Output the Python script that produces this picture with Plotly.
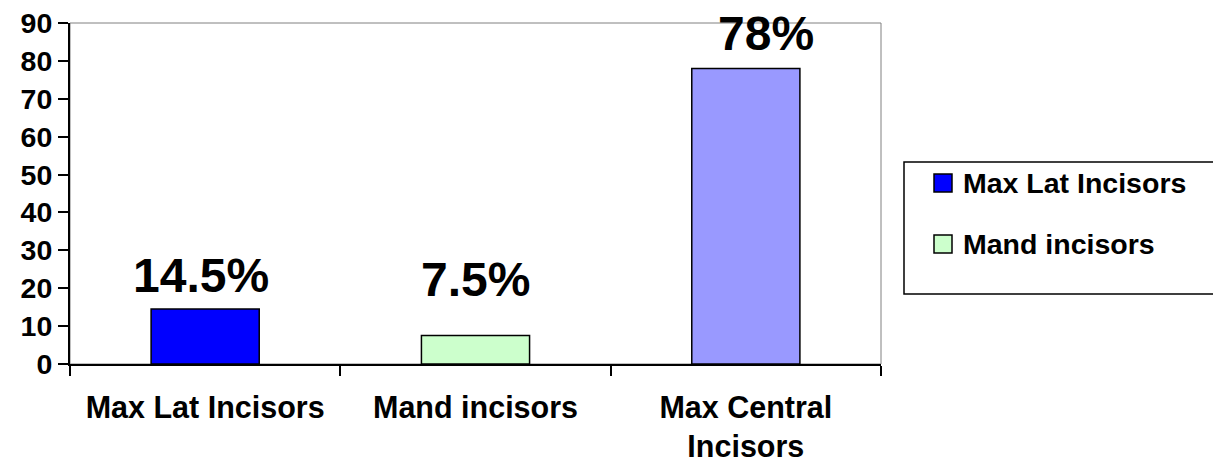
import plotly.graph_objects as go

# ---- data ----
categories = ["Max Lat Incisors", "Mand incisors", "Max Central Incisors"]
tick_labels = ["Max Lat Incisors", "Mand incisors", "Max Central<br>Incisors"]
values = [14.5, 7.5, 78]
value_labels = ["14.5%", "7.5%", "78%"]
colors = ["#0000FF", "#CCFFCC", "#9999FF"]
legend_names = ["Max Lat Incisors", "Mand incisors"]

# ---- layout constants ----
W, H = 1213, 468
L, R, T, B = 70, 332, 23, 104
PW, PH = W - L - R, H - T - B
FONT = "Liberation Sans, Arial, sans-serif"

# per-label pixel offsets (style)
label_xshift = [-4, 0, 20]
label_yshift = [5, 28, 6]


def px_x(p):
    return (p - L) / PW


def px_y(p):
    return (H - B - p) / PH


fig = go.Figure(
    go.Bar(
        x=categories,
        y=values,
        width=0.4,
        marker=dict(color=colors, line=dict(color="black", width=1.5)),
        showlegend=False,
        hoverinfo="skip",
    )
)

fig.update_layout(
    width=W,
    height=H,
    margin=dict(l=L, r=R, t=T, b=B, pad=0, autoexpand=False),
    paper_bgcolor="white",
    plot_bgcolor="white",
    font=dict(family=FONT, color="black"),
    showlegend=False,
)

fig.update_xaxes(
    type="category",
    tickmode="array",
    tickvals=categories,
    ticktext=tick_labels,
    tickson="boundaries",
    range=[-0.5, 2.5],
    ticks="outside",
    ticklen=10,
    tickwidth=1.5,
    tickcolor="black",
    showline=True,
    linecolor="black",
    linewidth=2,
    showgrid=False,
    zeroline=False,
    automargin=False,
    tickfont=dict(family=FONT, size=30.5, color="black", weight="bold"),
    ticklabelstandoff=15,
)

fig.update_yaxes(
    range=[0, 90],
    tickmode="linear",
    tick0=0,
    dtick=10,
    ticks="outside",
    ticklen=10,
    tickwidth=1.5,
    tickcolor="black",
    showline=True,
    linecolor="black",
    linewidth=2,
    showgrid=False,
    zeroline=False,
    automargin=False,
    tickfont=dict(family=FONT, size=28.5, color="black", weight="bold"),
    ticklabelstandoff=0,
)

shapes = [
    # gray plot-area border (top/right)
    dict(type="rect", xref="paper", yref="paper", x0=0, x1=1, y0=0, y1=1,
         line=dict(color="#808080", width=1), layer="below"),
    # legend box
    dict(type="rect", xref="paper", yref="paper",
         x0=px_x(904), x1=px_x(1230), y0=px_y(294), y1=px_y(162),
         line=dict(color="black", width=1.5), fillcolor="white"),
]

annotations = []
for i, (c, v, t) in enumerate(zip(categories, values, value_labels)):
    annotations.append(dict(
        x=c, y=v, xref="x", yref="y", text=t, showarrow=False,
        yanchor="bottom", xanchor="center",
        xshift=label_xshift[i], yshift=label_yshift[i],
        font=dict(family=FONT, size=48, color="black", weight="bold"),
    ))

row_centers = [183, 244]
for i, name in enumerate(legend_names):
    yc = row_centers[i]
    shapes.append(dict(
        type="rect", xref="paper", yref="paper",
        x0=px_x(934), x1=px_x(952), y0=px_y(yc + 9), y1=px_y(yc - 9),
        fillcolor=colors[i], line=dict(color="black", width=1.5),
    ))
    annotations.append(dict(
        x=px_x(961), y=px_y(yc), xref="paper", yref="paper",
        text=name, showarrow=False, xanchor="left", yanchor="middle",
        font=dict(family=FONT, size=28.5, color="black", weight="bold"),
    ))

fig.update_layout(shapes=shapes, annotations=annotations)

fig.write_html("out.html")
